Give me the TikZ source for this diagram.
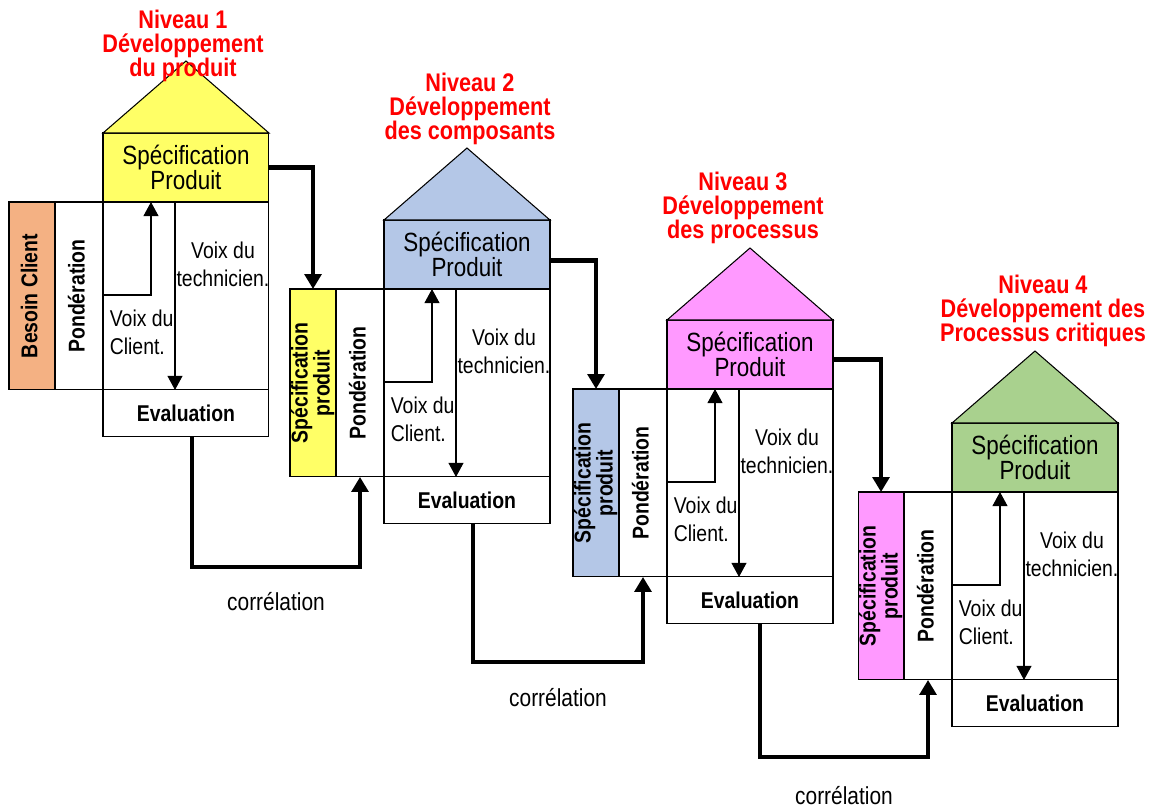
\documentclass[tikz,border=0pt]{standalone}
\usepackage{fontspec}
\setmainfont[FakeStretch=0.85]{Liberation Sans}
\usetikzlibrary{positioning,arrows.meta}

\definecolor{jaune}{RGB}{255,255,102}
\definecolor{bleu}{RGB}{180,199,231}
\definecolor{rose}{RGB}{255,153,255}
\definecolor{vert}{RGB}{169,209,142}
\definecolor{saumon}{RGB}{244,177,131}

\newcommand{\colvert}[1]{\rotatebox{90}{\begin{tabular}{@{}c@{}}#1\end{tabular}}}

\tikzset{
  case/.style={draw, line width=0.6pt, outer sep=0pt, inner sep=0pt},
  titre/.style={text=red, align=center, font=\fontsize{14.5}{13.6}\selectfont\bfseries},
  texte/.style={align=center, inner sep=0pt, font=\fontsize{13}{16}\selectfont},
  voix/.style={line width=0.6pt, -{Triangle[width=8.5pt,length=8pt]}},
  flux/.style={line width=2.5pt, -{Triangle[width=9.5pt,length=8.5pt]}},
  correl/.style={font=\fontsize{14}{16}\selectfont}
}

\begin{document}
\begin{tikzpicture}[x=0.02cm,y=-0.02cm]

\path[fill=white,use as bounding box] (0,0) rectangle (1149,809);

% une maison par niveau
\foreach \i/\xo/\yo/\fillc/\leftc/\lefttext in {%
  1/103/133/jaune/saumon/{Besoin Client},
  2/384/220/bleu/jaune/{Spécification\\produit},
  3/667/320/rose/bleu/{Spécification\\produit},
  4/952/423/vert/rose/{Spécification\\produit}}{
  \node[case, fill=\fillc, minimum width=3.32cm, minimum height=1.38cm, anchor=north west,
        align=center, font=\fontsize{15}{14.7}\selectfont] (spec\i) at (\xo,\yo) {Spécification\\Produit};
  \filldraw[fill=\fillc, line width=0.6pt] (spec\i.north west) -- ([yshift=1.44cm]spec\i.north) -- (spec\i.north east) -- cycle;
  \node[case, minimum width=3.32cm, minimum height=3.76cm, below=0pt of spec\i] (body\i) {};
  \node[case, minimum width=3.32cm, minimum height=0.94cm, below=0pt of body\i,
        font=\fontsize{13}{15}\selectfont\bfseries] (eval\i) {Evaluation};
  \node[case, minimum width=0.96cm, minimum height=3.76cm, left=0pt of body\i,
        font=\fontsize{13}{10.6}\selectfont\bfseries] (pond\i) {\colvert{Pondération}};
  \node[case, fill=\leftc, minimum width=0.92cm, minimum height=3.76cm, left=0pt of pond\i,
        font=\fontsize{13}{10.6}\selectfont\bfseries] (gauche\i) {\colvert{\lefttext}};
  \draw[voix] ([xshift=1.44cm]body\i.north west) -- ([xshift=1.44cm]body\i.south west);
  \draw[voix] ([yshift=-1.86cm]body\i.north west) -| ([xshift=0.96cm]body\i.north west);
  \node[texte] (tech\i) at ([xshift=2.4cm,yshift=-1.24cm]body\i.north west) {Voix du\\technicien.};
  \node[texte, anchor=west, align=left] (cli\i) at ([xshift=0.13cm,yshift=-2.6cm]body\i.north west) {Voix du\\Client.};
}

\node[titre] (titre1) at (183,46) {Niveau 1\\Développement\\du produit};
\node[titre] (titre2) at (470,109) {Niveau 2\\Développement\\des composants};
\node[titre] (titre3) at (743,208) {Niveau 3\\Développement\\des processus};
\node[titre] (titre4) at (1043,311) {Niveau 4\\Développement des\\Processus critiques};

% specification vers le niveau suivant
\draw[flux] (spec1.east) -| (gauche2.north);
\draw[flux] ([yshift=-0.12cm]spec2.east) -| (gauche3.north);
\draw[flux] ([yshift=-0.1cm]spec3.east) -| (gauche4.north);

% correlation
\draw[flux] ([xshift=0.12cm]eval1.south) -- ++(0,130) -| node[correl, pos=0.25, below=0.34cm] (corr1) {corrélation} (pond2.south);
\draw[flux] ([xshift=0.12cm]eval2.south) -- ++(0,138) -| node[correl, pos=0.25, below=0.36cm] (corr2) {corrélation} (pond3.south);
\draw[flux] ([xshift=0.2cm]eval3.south) -- ++(0,133) -| node[correl, pos=0.25, below=0.42cm] (corr3) {corrélation} (pond4.south);
\end{tikzpicture}
\end{document}
